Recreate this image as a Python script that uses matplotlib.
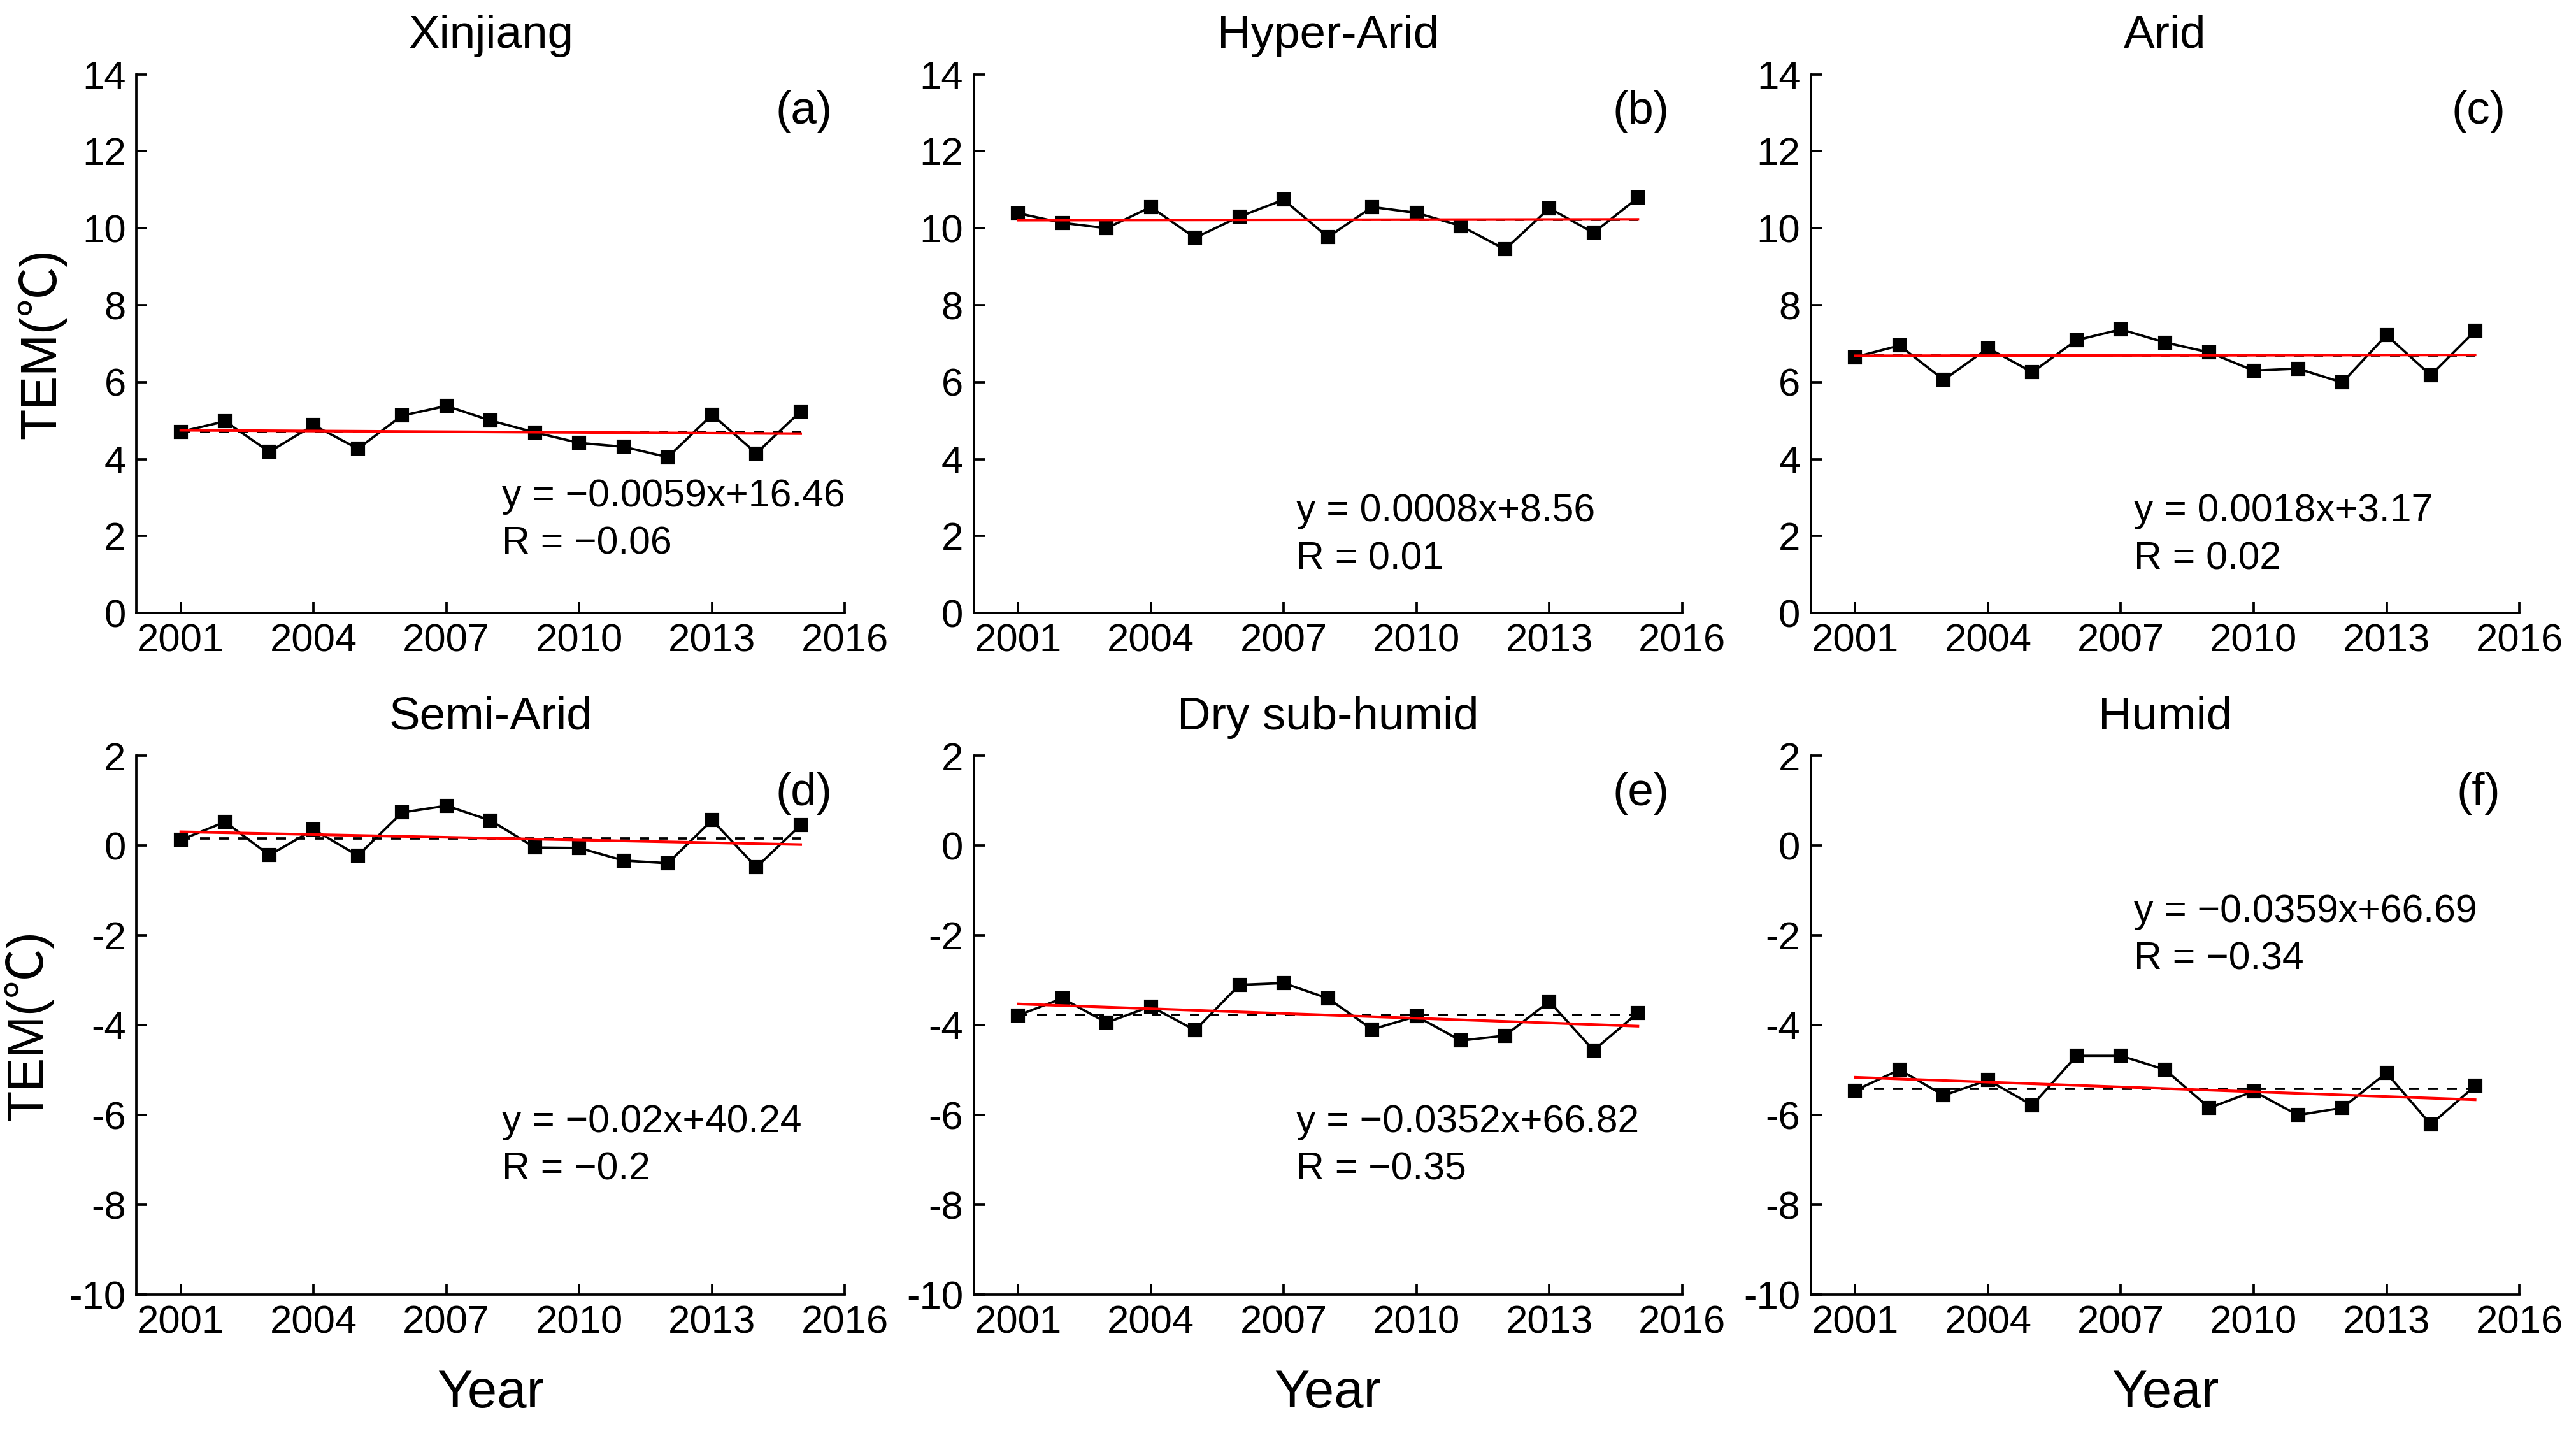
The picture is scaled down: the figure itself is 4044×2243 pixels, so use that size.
import numpy as np
import matplotlib
matplotlib.use("Agg")
import matplotlib.pyplot as plt

plt.rcParams['font.family'] = ['Liberation Sans', 'DejaVu Sans']
plt.rcParams['axes.unicode_minus'] = False

years = list(range(2001, 2016))

xinjiang = [4.71, 4.98, 4.19, 4.88, 4.27, 5.13, 5.38, 5.00, 4.69, 4.42, 4.32, 4.05, 5.15, 4.15, 5.24]
hyper_arid = [10.39, 10.14, 10.00, 10.55, 9.75, 10.30, 10.74, 9.77, 10.55, 10.40, 10.06, 9.45, 10.52, 9.88, 10.79]
arid = [6.65, 6.95, 6.06, 6.88, 6.26, 7.09, 7.37, 7.03, 6.77, 6.30, 6.35, 5.99, 7.22, 6.18, 7.33]
semi_arid = [0.13, 0.53, -0.21, 0.36, -0.22, 0.74, 0.89, 0.56, -0.04, -0.05, -0.33, -0.39, 0.57, -0.48, 0.46]
dry_sub_humid = [-3.78, -3.40, -3.94, -3.58, -4.11, -3.10, -3.06, -3.40, -4.09, -3.80, -4.34, -4.23, -3.47, -4.56, -3.72]
humid = [-5.45, -4.99, -5.56, -5.22, -5.78, -4.68, -4.68, -4.99, -5.84, -5.47, -6.00, -5.84, -5.06, -6.21, -5.35]

titles = ['Xinjiang', 'Hyper-Arid', 'Arid', 'Semi-Arid', 'Dry sub-humid', 'Humid']
letters = ['(a)', '(b)', '(c)', '(d)', '(e)', '(f)']
equations = ['y = \u22120.0059x+16.46', 'y = 0.0008x+8.56', 'y = 0.0018x+3.17',
             'y = \u22120.02x+40.24', 'y = \u22120.0352x+66.82', 'y = \u22120.0359x+66.69']
r_values = ['R = \u22120.06', 'R = 0.01', 'R = 0.02', 'R = \u22120.2', 'R = \u22120.35', 'R = \u22120.34']
series = [xinjiang, hyper_arid, arid, semi_arid, dry_sub_humid, humid]

# where the equation text sits (axes fraction)
eq_pos = [(0.516, 0.216, 0.128), (0.455, 0.189, 0.10), (0.456, 0.189, 0.10),
          (0.516, 0.32, 0.232), (0.455, 0.32, 0.232), (0.456, 0.71, 0.622)]

fig = plt.figure(figsize=(13.48, 7.477), dpi=300)
lefts = [0.053, 0.378, 0.703]
bottoms = [0.571, 0.094]
w, h = 0.275, 0.377

for i in range(6):
    row, col = i // 3, i % 3
    ax = fig.add_axes([lefts[col], bottoms[row], w, h])
    y = np.array(series[i])
    x = np.array(years)

    ax.plot(x, y, color='black', lw=0.9, marker='s', ms=4.3, zorder=3)
    ax.plot([x[0], x[-1]], [y.mean(), y.mean()], color='black', lw=0.9, ls=(0, (4, 4)), zorder=2)
    k, b = np.polyfit(x, y, 1)
    ax.plot([x[0], x[-1]], [k * x[0] + b, k * x[-1] + b], color='red', lw=1.0, zorder=4)

    ax.set_xlim(2000, 2016)
    ax.set_xticks([2001, 2004, 2007, 2010, 2013, 2016])
    if row == 0:
        ax.set_ylim(0, 14)
        ax.set_yticks(range(0, 15, 2))
    else:
        ax.set_ylim(-10, 2)
        ax.set_yticks(range(-10, 3, 2))
    ax.spines['top'].set_visible(False)
    ax.spines['right'].set_visible(False)
    for s in ['left', 'bottom']:
        ax.spines[s].set_linewidth(0.9)
    ax.tick_params(direction='in', length=4, width=0.9, labelsize=14.8, pad=4)

    ax.set_title(titles[i], fontsize=17.5, pad=10)
    ax.text(0.942, 0.93, letters[i], transform=ax.transAxes, fontsize=17.5, ha='center', va='center')
    ex, ey1, ey2 = eq_pos[i]
    ax.text(ex, ey1, equations[i], transform=ax.transAxes, fontsize=14.6, ha='left', va='center')
    ax.text(ex, ey2, r_values[i], transform=ax.transAxes, fontsize=14.6, ha='left', va='center')

    if col == 0:
        ax.set_ylabel('TEM(\u2103)', fontsize=19, labelpad=6,
                      family=['Liberation Sans', 'Noto Sans CJK SC', 'DejaVu Sans'])
    if row == 1:
        ax.set_xlabel('Year', fontsize=20, labelpad=10)

fig.savefig('out.png', dpi=300)
